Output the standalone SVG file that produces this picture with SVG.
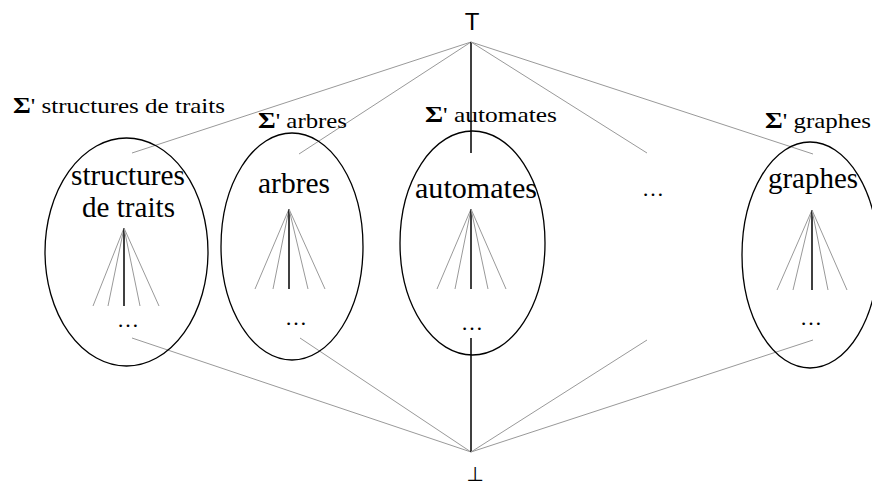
<svg xmlns="http://www.w3.org/2000/svg" width="872" height="487" viewBox="0 0 872 487">
<style>
.g{stroke:#999;stroke-width:1;fill:none}
.k{stroke:#000;stroke-width:1.5;fill:none}
.e{stroke:#000;stroke-width:1.3;fill:none}
.s{font-family:"Liberation Serif",serif;font-size:22px;fill:#000}
.l{font-family:"Liberation Serif",serif;font-size:29px;fill:#000}
.d{font-family:"Liberation Serif",serif;font-size:22px;fill:#000;text-anchor:middle}
.sig{font-family:"Liberation Serif",serif;font-weight:bold;font-size:24px}
.sym{font-family:"DejaVu Sans","Liberation Sans",sans-serif;font-size:20px;fill:#000;text-anchor:middle}
</style>
<rect width="872" height="487" fill="#fff"/>
<g id="connectors">
<line class="g" x1="471" y1="42" x2="132" y2="153"/>
<line class="g" x1="471" y1="42" x2="299" y2="154"/>
<line class="k" x1="471" y1="42" x2="471" y2="153"/>
<line class="g" x1="471" y1="42" x2="647" y2="153"/>
<line class="g" x1="471" y1="42" x2="813" y2="154"/>
<line class="g" x1="471" y1="452" x2="132" y2="338"/>
<line class="g" x1="471" y1="452" x2="300" y2="338"/>
<line class="k" x1="471" y1="452" x2="471" y2="338"/>
<line class="g" x1="471" y1="452" x2="647" y2="340"/>
<line class="g" x1="471" y1="452" x2="813" y2="340"/>
</g>
<g id="top"><text class="sym" x="472" y="30" style="font-family:'Liberation Sans',sans-serif;font-size:24px">T</text></g>
<g id="bottom"><text class="sym" x="475" y="481">⊥</text></g>
<g id="structures">
<ellipse class="e" cx="126.5" cy="252" rx="81.5" ry="114"/>
<text class="s" x="13" y="113" textLength="212" lengthAdjust="spacingAndGlyphs"><tspan class="sig">Σ</tspan>' structures de traits</text>
<text class="l" x="71" y="185" textLength="114" lengthAdjust="spacingAndGlyphs">structures</text>
<text class="l" x="82" y="217" textLength="93" lengthAdjust="spacingAndGlyphs">de traits</text>
<line class="g" x1="124" y1="228" x2="93" y2="306"/>
<line class="g" x1="124" y1="228" x2="108" y2="306"/>
<line class="k" x1="124" y1="228" x2="124" y2="306"/>
<line class="g" x1="124" y1="228" x2="140" y2="306"/>
<line class="g" x1="124" y1="228" x2="159" y2="306"/>
<text class="d" x="128" y="327">…</text>
</g>
<g id="arbres">
<ellipse class="e" cx="292" cy="246.5" rx="71" ry="113.5"/>
<text class="s" x="258" y="128" textLength="89" lengthAdjust="spacingAndGlyphs"><tspan class="sig">Σ</tspan>' arbres</text>
<text class="l" x="258" y="193" textLength="72" lengthAdjust="spacingAndGlyphs">arbres</text>
<line class="g" x1="289" y1="209" x2="255" y2="289"/>
<line class="g" x1="289" y1="209" x2="273" y2="289"/>
<line class="k" x1="289" y1="209" x2="289" y2="289"/>
<line class="g" x1="289" y1="209" x2="308" y2="289"/>
<line class="g" x1="289" y1="209" x2="325" y2="289"/>
<text class="d" x="296" y="325">…</text>
</g>
<g id="automates">
<ellipse class="e" cx="472.5" cy="243" rx="72.5" ry="112"/>
<text class="s" x="425" y="122" textLength="132" lengthAdjust="spacingAndGlyphs"><tspan class="sig">Σ</tspan>' automates</text>
<text class="l" x="415" y="198" textLength="122" lengthAdjust="spacingAndGlyphs">automates</text>
<line class="g" x1="471" y1="209" x2="437" y2="289"/>
<line class="g" x1="471" y1="209" x2="455" y2="289"/>
<line class="k" x1="471" y1="209" x2="471" y2="289"/>
<line class="g" x1="471" y1="209" x2="488" y2="289"/>
<line class="g" x1="471" y1="209" x2="506" y2="289"/>
<text class="d" x="472" y="330">…</text>
</g>
<g id="etc"><text class="d" x="653" y="196">…</text></g>
<g id="graphes">
<ellipse class="e" cx="810" cy="255" rx="68" ry="113"/>
<text class="s" x="765" y="128" textLength="106" lengthAdjust="spacingAndGlyphs"><tspan class="sig">Σ</tspan>' graphes</text>
<text class="l" x="768" y="188" textLength="90" lengthAdjust="spacingAndGlyphs">graphes</text>
<line class="g" x1="812" y1="210" x2="777" y2="290"/>
<line class="g" x1="812" y1="210" x2="793" y2="290"/>
<line class="k" x1="812" y1="210" x2="812" y2="290"/>
<line class="g" x1="812" y1="210" x2="828" y2="290"/>
<line class="g" x1="812" y1="210" x2="847" y2="290"/>
<text class="d" x="811" y="325">…</text>
</g>
</svg>
